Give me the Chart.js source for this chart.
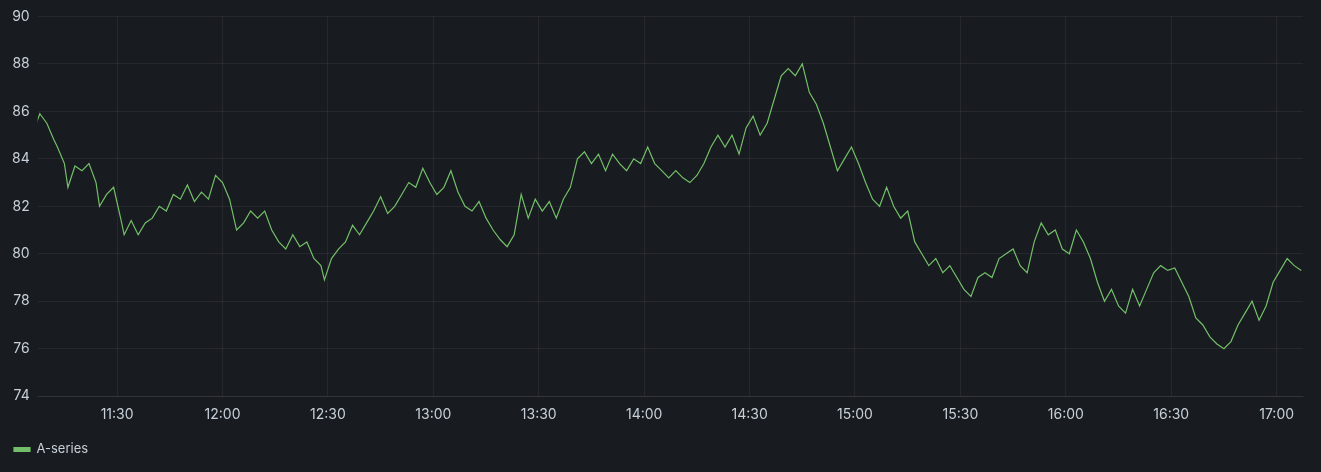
<!DOCTYPE html>
<html>
<head>
<meta charset="utf-8">
<script src="https://cdn.jsdelivr.net/npm/chart.js@4"></script>
<style>
  html, body { margin: 0; padding: 0; background: #181b1f; }
  #wrap { width: 1321px; height: 472px; position: relative; }
</style>
</head>
<body>
<div id="wrap"><canvas id="chart"></canvas></div>
<script>
// time labels (HH:MM) and values of the A-series
const times = [
  '11:07','11:08','11:10','11:12','11:13','11:15','11:16','11:18','11:20','11:22','11:24','11:25','11:27','11:29',
  '11:31','11:32','11:34','11:36','11:38','11:40','11:42','11:44','11:46','11:48','11:50','11:52','11:54','11:56','11:58',
  '12:00','12:02','12:04','12:06','12:08','12:10','12:12','12:14','12:16','12:18','12:20','12:22','12:24','12:26','12:28',
  '12:29','12:31','12:33','12:35','12:37','12:39','12:41','12:43','12:45','12:47','12:49','12:51','12:53','12:55','12:57','12:59',
  '13:01','13:03','13:05','13:07','13:09','13:11','13:13','13:15','13:17','13:19','13:21','13:23','13:25','13:27','13:29',
  '13:31','13:33','13:35','13:37','13:39','13:41','13:43','13:45','13:47','13:49','13:51','13:53','13:55','13:57','13:59',
  '14:01','14:03','14:05','14:07','14:09','14:11','14:13','14:15','14:17','14:19','14:21','14:23','14:25','14:27','14:29',
  '14:31','14:33','14:35','14:37','14:39','14:41','14:43','14:45','14:47','14:49','14:51','14:53','14:55','14:57','14:59',
  '15:01','15:03','15:05','15:07','15:09','15:11','15:13','15:15','15:17','15:19','15:21','15:23','15:25','15:27','15:29',
  '15:31','15:33','15:35','15:37','15:39','15:41','15:43','15:45','15:47','15:49','15:51','15:53','15:55','15:57','15:59',
  '16:01','16:03','16:05','16:07','16:09','16:11','16:13','16:15','16:17','16:19','16:21','16:23','16:25','16:27','16:29',
  '16:31','16:33','16:35','16:37','16:39','16:41','16:43','16:45','16:47','16:49','16:51','16:53','16:55','16:57','16:59',
  '17:01','17:03','17:05','17:07'
];
const values = [
  85.5,85.9,85.5,84.8,84.5,83.8,82.8,83.7,83.5,83.8,83.0,82.0,82.5,82.8,
  81.5,80.8,81.4,80.8,81.3,81.5,82.0,81.8,82.5,82.3,82.9,82.2,82.6,82.3,83.3,
  83.0,82.3,81.0,81.3,81.8,81.5,81.8,81.0,80.5,80.2,80.8,80.3,80.5,79.8,79.5,
  78.9,79.8,80.2,80.5,81.2,80.8,81.3,81.8,82.4,81.7,82.0,82.5,83.0,82.8,83.6,83.0,
  82.5,82.8,83.5,82.6,82.0,81.8,82.2,81.5,81.0,80.6,80.3,80.8,82.5,81.5,82.3,
  81.8,82.2,81.5,82.3,82.8,84.0,84.3,83.8,84.2,83.5,84.2,83.8,83.5,84.0,83.8,
  84.5,83.8,83.5,83.2,83.5,83.2,83.0,83.3,83.8,84.5,85.0,84.5,85.0,84.2,85.3,
  85.8,85.0,85.5,86.5,87.5,87.8,87.5,88.0,86.8,86.3,85.5,84.5,83.5,84.0,84.5,
  83.8,83.0,82.3,82.0,82.8,82.0,81.5,81.8,80.5,80.0,79.5,79.8,79.2,79.5,79.0,
  78.5,78.2,79.0,79.2,79.0,79.8,80.0,80.2,79.5,79.2,80.5,81.3,80.8,81.0,80.2,
  80.0,81.0,80.5,79.8,78.8,78.0,78.5,77.8,77.5,78.5,77.8,78.5,79.2,79.5,79.3,
  79.4,78.8,78.2,77.3,77.0,76.5,76.2,76.0,76.3,77.0,77.5,78.0,77.2,77.8,78.8,
  79.3,79.8,79.5,79.3
];
const xTicks = ['11:30','12:00','12:30','13:00','13:30','14:00','14:30','15:00','15:30','16:00','16:30','17:00'];
const yTicks = [74, 76, 78, 80, 82, 84, 86, 88, 90];

const toMin = s => { const [h, m] = s.split(':').map(Number); return h * 60 + m; };
const fmt = v => String(Math.floor(v / 60)).padStart(2, '0') + ':' + String(Math.round(v % 60)).padStart(2, '0');
const points = times.map((t, i) => ({ x: toMin(t), y: values[i] }));

Chart.defaults.font.family = 'Inter, Roboto, sans-serif';
Chart.defaults.font.size = 14;
Chart.defaults.color = '#c7d0d9';

new Chart(document.getElementById('chart'), {
  type: 'line',
  data: {
    datasets: [{
      label: 'A-series',
      data: points,
      borderColor: '#73bf69',
      backgroundColor: '#73bf69',
      borderWidth: 1.2,
      pointRadius: 0,
      tension: 0
    }]
  },
  options: {
    responsive: true,
    maintainAspectRatio: false,
    animation: false,
    layout: { padding: { top: 10, right: 18, left: 4, bottom: 6 } },
    plugins: {
      legend: {
        position: 'bottom', align: 'start',
        labels: { boxWidth: 16, boxHeight: 4, padding: 10, font: { size: 13 } }
      },
      tooltip: { enabled: false }
    },
    scales: {
      x: {
        type: 'linear',
        min: toMin(times[0]) + 0.4,
        max: toMin(times[times.length - 1]) + 0.5,
        afterBuildTicks: s => { s.ticks = xTicks.map(t => ({ value: toMin(t) })); },
        ticks: { callback: v => fmt(v), maxRotation: 0, autoSkip: false, padding: 10 },
        grid: { color: 'rgba(204,204,220,0.08)', drawTicks: false },
        border: { color: 'rgba(204,204,220,0.08)' }
      },
      y: {
        min: yTicks[0], max: yTicks[yTicks.length - 1],
        afterBuildTicks: s => { s.ticks = yTicks.map(v => ({ value: v })); },
        ticks: { padding: 8 },
        grid: { color: 'rgba(204,204,220,0.08)', drawTicks: false },
        border: { display: false }
      }
    }
  }
});
</script>
</body>
</html>
